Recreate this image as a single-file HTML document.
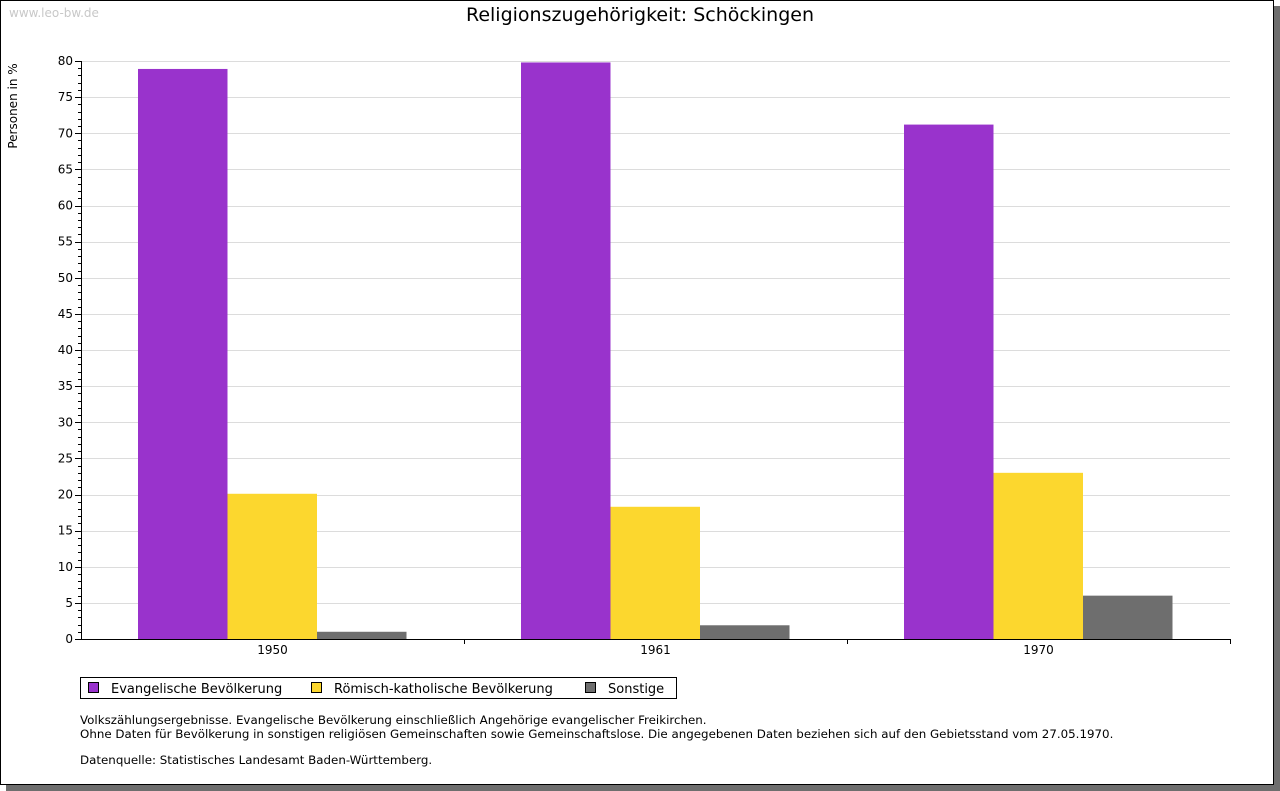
<!DOCTYPE html>
<html><head><meta charset="utf-8"><style>
body{margin:0;background:#fff;}
svg{display:block;font-family:"DejaVu Sans","Liberation Sans",sans-serif;}
</style></head><body>
<svg width="1280" height="791">
<rect x="6" y="6" width="1274" height="785" fill="#6e6e6e"/>
<rect x="0.5" y="0.5" width="1273" height="784" fill="#fff" stroke="#000"/>
<text x="9" y="17" font-size="12" fill="#c8c8c8">www.leo-bw.de</text>
<text x="640" y="21" font-size="19" text-anchor="middle" fill="#000">Religionszugehörigkeit: Schöckingen</text>
<text transform="translate(17,106) rotate(-90)" font-size="12" text-anchor="middle">Personen in %</text>
<g id="grid"></g><g id="bars"></g><g id="axes"></g>
<g>
<rect x="80.5" y="677.5" width="596" height="21" fill="#fff" stroke="#000"/>
<rect x="88.5" y="682.5" width="10" height="10" fill="#9933cc" stroke="#000"/>
<text x="111" y="693" font-size="13">Evangelische Bevölkerung</text>
<rect x="311.5" y="682.5" width="10" height="10" fill="#fcd72e" stroke="#000"/>
<text x="334" y="693" font-size="13">Römisch-katholische Bevölkerung</text>
<rect x="585.5" y="682.5" width="10" height="10" fill="#6e6e6e" stroke="#000"/>
<text x="608" y="693" font-size="13">Sonstige</text>
</g>
<g font-size="11.85">
<text x="80" y="724">Volkszählungsergebnisse. Evangelische Bevölkerung einschließlich Angehörige evangelischer Freikirchen.</text>
<text x="80" y="738">Ohne Daten für Bevölkerung in sonstigen religiösen Gemeinschaften sowie Gemeinschaftslose. Die angegebenen Daten beziehen sich auf den Gebietsstand vom 27.05.1970.</text>
<text x="80" y="764">Datenquelle: Statistisches Landesamt Baden-Württemberg.</text>
</g>
</svg>
<script>
const categories=["1950","1961","1970"];
const evangelisch=[78.9,79.8,71.2];
const katholisch=[20.1,18.3,23.0];
const sonstige=[1.0,1.9,6.0];
const yTicks=[0,5,10,15,20,25,30,35,40,45,50,55,60,65,70,75,80];
const NS="http://www.w3.org/2000/svg";
const X0=81,X1=1230,Y0=639,Y1=61,YMAX=80;
const y=v=>Y0-(Y0-Y1)*v/YMAX;
const gw=(X1-X0)/categories.length;
const bw=89.5;
function mk(t,a,p){const e=document.createElementNS(NS,t);for(const k in a)e.setAttribute(k,a[k]);p.appendChild(e);return e;}
const grid=document.getElementById('grid'),bars=document.getElementById('bars'),axes=document.getElementById('axes');
yTicks.forEach(v=>{
 if(v>0){const l=mk('line',{x1:X0,x2:X1,y1:Math.round(y(v))+0.5,y2:Math.round(y(v))+0.5,stroke:'#dcdcdc'},grid);
 
 }
 const t=mk('text',{x:73,y:y(v)+4,'font-size':12,'text-anchor':'end'},axes);t.textContent=v;
 
 
 mk('line',{x1:X0-6,x2:X0,y1:Math.round(y(v))+0.5,y2:Math.round(y(v))+0.5,stroke:'#000'},axes);
});
for(let v=0;v<=YMAX;v++){if(v%5)mk('line',{x1:X0-3,x2:X0,y1:Math.round(y(v))+0.5,y2:Math.round(y(v))+0.5,stroke:'#000'},axes);}
const series=[[evangelisch,'#9933cc','evangelisch'],[katholisch,'#fcd72e','katholisch'],[sonstige,'#6e6e6e','sonstige']];
categories.forEach((c,i)=>{
 const gx=X0+gw*i+57;
 series.forEach(([d,col,n],j)=>{
  const r=mk('rect',{x:gx+bw*j,y:y(d[i]),width:bw,height:Y0-y(d[i]),fill:col},bars);
  
  
 });
 const t=mk('text',{x:X0+gw*(i+0.5),y:654,'font-size':12,'text-anchor':'middle'},axes);t.textContent=c;
 
 
 mk('line',{x1:Math.round(X0+gw*(i+1))+0.5,x2:Math.round(X0+gw*(i+1))+0.5,y1:Y0,y2:Y0+5,stroke:'#000'},axes);
});
const ya=mk('line',{x1:X0+0.5,x2:X0+0.5,y1:Y1,y2:Y0+1,stroke:'#000'},axes);


const xa=mk('line',{x1:X0,x2:X1+1,y1:Y0+0.5,y2:Y0+0.5,stroke:'#000'},axes);


</script>
</body></html>
